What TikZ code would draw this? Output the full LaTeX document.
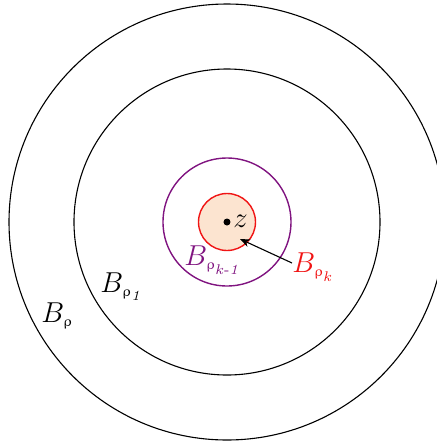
\documentclass[tikz,border=0pt]{standalone}
\usepackage{amsmath,amssymb}
\usepackage{upgreek}
\usepackage{xcolor}
\usepackage{tikz}
\usetikzlibrary{positioning,calc,arrows.meta}
\definecolor{BallRed}{RGB}{240,20,20}
\definecolor{BallPurple}{RGB}{128,20,128}
\definecolor{BallFill}{RGB}{252,228,208}

\begin{document}
\begin{tikzpicture}[
  x=0.5pt, y=-0.5pt,
  ring/.style={draw=black, line width=0.55pt},
  inner/.style={draw=BallPurple, line width=0.7pt},
  core/.style={draw=BallRed, fill=BallFill, line width=0.7pt},
  lbl/.style={inner sep=0pt, anchor=base west, font=\fontsize{14}{16}\selectfont},
  arrow/.style={-{Stealth[length=5pt,width=4pt]}, line width=0.55pt, draw=black}
]
  \useasboundingbox (0,0) rectangle (437,441);

  % Centre
  \coordinate (z) at (227,222);

  % Balls
  \draw[ring] (z) circle[radius=218];
  \draw[ring] (z) circle[radius=153];
  \draw[inner] (z) circle[radius=64];
  \draw[core] (z) circle[radius=28.5];
  \fill (z) circle[radius=3.5];

  % Labels
  \node[lbl] (zlbl) at (233,227) {$z$};
  \node[lbl] (brho) at (41,322) {$B_{\scriptscriptstyle\uprho}$};
  \node[lbl] (brho1) at (100,292) {$B_{\scriptscriptstyle\uprho_{\mathit{1}}}$};
  \node[lbl, text=BallPurple] (brhok1) at (184,265) {$B_{\scriptscriptstyle\uprho_{k\text{-}\mathit{1}}}$};
  \node[lbl, text=BallRed] (brhok) at (292,272) {$B_{\scriptscriptstyle\uprho_k}$};

  % Arrow
  \coordinate (tip) at (240,239);
  \draw[arrow] ($(brhok.base west)+(0,-9)$) -- (tip);
\end{tikzpicture}
\end{document}
